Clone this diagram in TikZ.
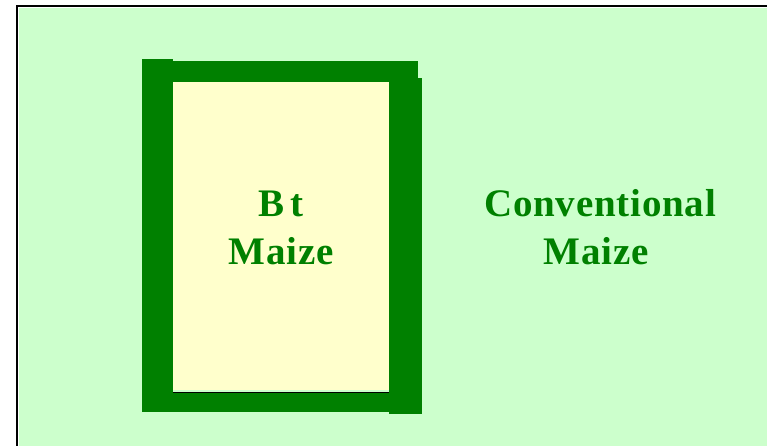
\documentclass[tikz,border=0pt]{standalone}
\usepackage{fontspec}
\setmainfont{Liberation Serif}
\newfontfamily\labelfont[LetterSpace=2]{Liberation Serif}
\definecolor{fieldgreen}{HTML}{CCFFCC}
\definecolor{plotcream}{HTML}{FFFFCC}
\definecolor{darkgreen}{HTML}{008000}
\begin{document}
\begin{tikzpicture}[x=1pt,y=-1pt,
  bar/.style={fill=darkgreen,draw=none},
  label/.style={text=darkgreen,font=\labelfont\fontsize{39}{45}\selectfont\bfseries,anchor=base,inner sep=0pt}]
\useasboundingbox (0,0) rectangle (767,446);
% page and field
\fill[white] (0,0) rectangle (767,446);
\fill[fieldgreen] (19,8) rectangle (767,446);
\draw[black,line width=2pt] (17,446) -- (17,6) -- (767,6);
% refuge plot
\fill[plotcream] (173,82) rectangle (389,390);
% surrounding border strips
\fill[bar] (142,59) rectangle (173,412);
\fill[bar] (142,61) rectangle (418,82);
\fill[bar] (389,78) rectangle (422,414);
\fill[bar] (142,392) rectangle (389,412);
\draw[black,line width=1pt] (173,392.5) -- (389,392.5);
% labels
\node[label] (bt) at (281,216) {B\,t};
\node[label] (btm) at (281,264) {Maize};
\node[label] (conv) at (600,216) {Conventional};
\node[label] (convm) at (596,264) {Maize};
\end{tikzpicture}
\end{document}
